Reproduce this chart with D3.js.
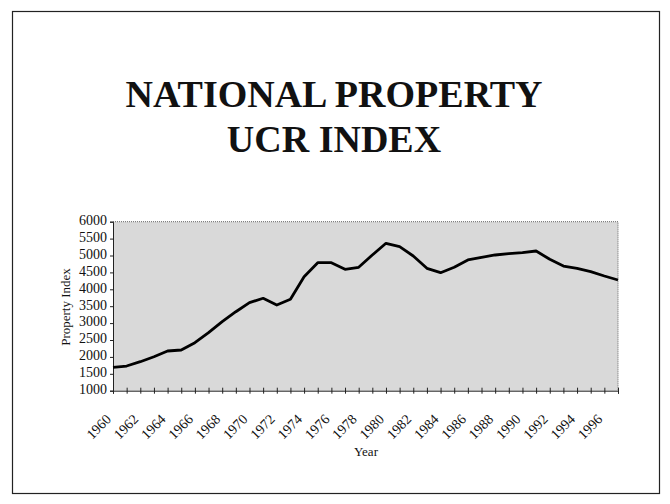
<!DOCTYPE html>
<html>
<head>
<meta charset="utf-8">
<script src="https://cdn.jsdelivr.net/npm/d3@7"></script>
<style>
  html, body { margin: 0; padding: 0; background: #fff; }
  svg { display: block; }
</style>
</head>
<body>
<script>
const years = d3.range(1960, 1998);
const propertyIndex = [1692, 1730, 1858, 2006, 2175, 2204, 2420, 2716, 3041, 3337,
  3604, 3734, 3536, 3704, 4373, 4787, 4787, 4592, 4651, 5015,
  5361, 5260, 4985, 4621, 4491, 4651, 4867, 4946, 5015, 5053,
  5083, 5133, 4888, 4689, 4621, 4521, 4393, 4275];
const yTicks = [1000, 1500, 2000, 2500, 3000, 3500, 4000, 4500, 5000, 5500, 6000];
const xLabelYears = d3.range(1960, 1997, 2);
const titleLines = ["NATIONAL PROPERTY", "UCR INDEX"];

const W = 670, H = 504;
const svg = d3.select("body").append("svg").attr("width", W).attr("height", H);

// outer frame
svg.append("rect").attr("x", 12.5).attr("y", 11.5).attr("width", 647).attr("height", 482)
  .attr("fill", "none").attr("stroke", "#222").attr("stroke-width", 1.2);

// title
svg.append("g").selectAll("text").data(titleLines).join("text")
  .attr("x", 334).attr("y", (d, i) => 107 + i * 45)
  .attr("text-anchor", "middle")
  .attr("font-family", "'Liberation Serif', 'Times New Roman', serif")
  .attr("font-weight", "bold").attr("font-size", 38)
  .attr("fill", "#111")
  .text(d => d);

const plot = { left: 113, right: 618, top: 221.7, bottom: 390.7 };
const x = d3.scaleLinear().domain([1960, 1997]).range([plot.left, plot.right]);
const y = d3.scaleLinear().domain([1000, 6000]).range([plot.bottom, plot.top]);

// plot background
svg.append("rect").attr("x", plot.left).attr("y", plot.top)
  .attr("width", plot.right - plot.left).attr("height", plot.bottom - plot.top)
  .attr("fill", "#d9d9d9");
// dotted top/right border
svg.append("path")
  .attr("d", `M${plot.left},${plot.top}H${plot.right}V${plot.bottom}`)
  .attr("fill", "none").attr("stroke", "#666").attr("stroke-width", 1)
  .attr("stroke-dasharray", "1,1");

const font = "'Liberation Serif', 'Times New Roman', serif";

// y axis
const yAxis = svg.append("g").attr("transform", `translate(${plot.left},0)`)
  .call(d3.axisLeft(y).tickValues(yTicks).tickSize(3).tickPadding(3).tickFormat(d3.format("d")));
yAxis.select(".domain").attr("stroke", "#222");
yAxis.selectAll("line").attr("stroke", "#222");
yAxis.selectAll("text").attr("font-family", font).attr("font-size", 14).attr("fill", "#111")
  .attr("dy", "0.2em");

// x axis
const xAxis = svg.append("g").attr("transform", `translate(0,${plot.bottom})`)
  .call(d3.axisBottom(x).tickValues(years).tickSize(3).tickFormat(""));
xAxis.select(".domain").attr("stroke", "#222");
xAxis.selectAll(".tick line").attr("y1", -3).attr("y2", 3).attr("stroke", "#222");

const xLab = svg.append("g").attr("transform", `translate(0,${plot.bottom})`)
  .call(d3.axisBottom(x).tickValues(xLabelYears).tickSize(0).tickFormat(d3.format("d")));
xLab.select(".domain").remove();
xLab.selectAll("text")
  .attr("font-family", font).attr("font-size", 14).attr("fill", "#111")
  .attr("text-anchor", "end").attr("x", 0).attr("y", 0).attr("dy", "0.35em")
  .attr("transform", "translate(-5,26) rotate(-45)");

// line
const line = d3.line().x((d, i) => x(years[i])).y(d => y(d));
svg.append("path").datum(propertyIndex)
  .attr("d", line).attr("fill", "none").attr("stroke", "#000")
  .attr("stroke-width", 2.8).attr("stroke-linejoin", "round");

// axis titles
svg.append("text").attr("transform", `translate(70,307) rotate(-90)`)
  .attr("text-anchor", "middle").attr("font-family", font).attr("font-size", 13)
  .attr("fill", "#111").text("Property Index");
svg.append("text").attr("x", 366).attr("y", 456)
  .attr("text-anchor", "middle").attr("font-family", font).attr("font-size", 13)
  .attr("fill", "#111").text("Year");
</script>
</body>
</html>
